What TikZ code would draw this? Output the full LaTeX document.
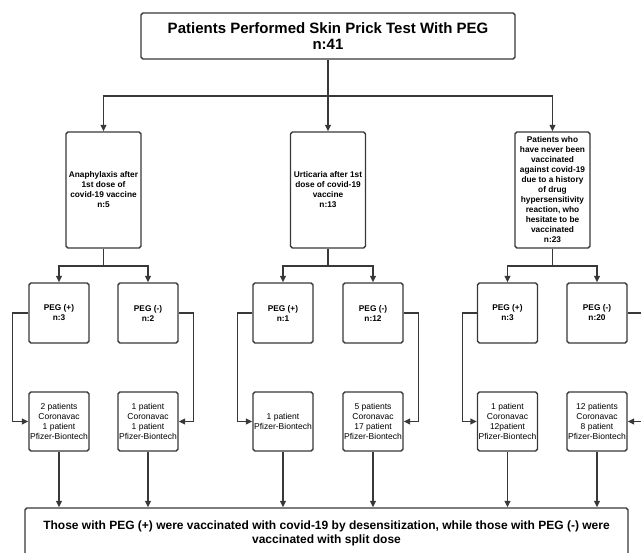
\documentclass[tikz,border=0pt]{standalone}
\usepackage{fontspec}
\setmainfont{Liberation Sans}
\usetikzlibrary{arrows.meta}
\definecolor{ln}{HTML}{383838}
\tikzset{
  box/.style={draw=ln, line width=1.4pt, rounded corners=1.8pt, inner sep=0pt, align=center, anchor=center, text=black},
  topbox/.style={box, minimum width=374pt, minimum height=46pt, font=\fontsize{15}{16.5}\selectfont\bfseries},
  grpbox/.style={box, minimum width=75pt, minimum height=116pt, font=\fontsize{8.3}{10}\selectfont\bfseries},
  pegbox/.style={box, minimum width=60pt, minimum height=60pt, font=\fontsize{8.3}{10}\selectfont\bfseries},
  resbox/.style={box, minimum width=60pt, minimum height=59pt, font=\fontsize{8.5}{10}\selectfont},
  botbox/.style={box, minimum width=603pt, minimum height=51pt, font=\fontsize{12}{14}\selectfont\bfseries},
  conn/.style={draw=ln, line width=1.4pt, -{Triangle[length=6.5pt,width=6pt]}},
  plain/.style={draw=ln, line width=1.4pt}
}
\begin{document}
\begin{tikzpicture}[x=1pt,y=-1pt]
\useasboundingbox[fill=white] (0,0) rectangle (641,553);

\node[topbox] (top) at (328,36) {Patients Performed Skin Prick Test With PEG\\n:41};

\node[grpbox] (A) at (103.5,190) {Anaphylaxis after\\1st dose of\\covid-19 vaccine\\n:5};
\node[grpbox] (B) at (328,190) {Urticaria after 1st\\dose of covid-19\\vaccine\\n:13};
\node[grpbox] (C) at (552.5,190) {Patients who\\have never been\\vaccinated\\against covid-19\\due to a history\\of drug\\hypersensitivity\\reaction, who\\hesitate to be\\vaccinated\\n:23};

\node[pegbox] (Ap) at (59,313) {PEG (+)\\n:3};
\node[pegbox] (Am) at (148,313) {PEG (-)\\n:2};
\node[pegbox] (Bp) at (283,313) {PEG (+)\\n:1};
\node[pegbox] (Bm) at (373,313) {PEG (-)\\n:12};
\node[pegbox] (Cp) at (507.5,313) {PEG (+)\\n:3};
\node[pegbox] (Cm) at (597,313) {PEG (-)\\n:20};

\node[resbox] (Ar) at (59,421.5) {2 patients\\Coronavac\\1 patient\\Pfizer-Biontech};
\node[resbox] (Amr) at (148,421.5) {1 patient\\Coronavac\\1 patient\\Pfizer-Biontech};
\node[resbox] (Br) at (283,421.5) {1 patient\\Pfizer-Biontech};
\node[resbox] (Bmr) at (373,421.5) {5 patients\\Coronavac\\17 patient\\Pfizer-Biontech};
\node[resbox] (Cr) at (507.5,421.5) {1 patient\\Coronavac\\12patient\\Pfizer-Biontech};
\node[resbox] (Cmr) at (597,421.5) {12 patients\\Coronavac\\8 patient\\Pfizer-Biontech};

\node[botbox] (bot) at (326.5,533.5) {Those with PEG (+) were vaccinated with covid-19 by desensitization, while those with PEG (-) were\\vaccinated with split dose};

% main branch
\coordinate (j) at (328,96);
\draw[plain] (top.south) -- (j);
\draw[conn] (j) -| (A.north);
\draw[conn] (j) -| (C.north);
\draw[conn] (j) -- (B.north);

% sub branches
\coordinate (ja) at (103.5,266);
\coordinate (jb) at (328,266);
\coordinate (jc) at (552.5,266);
\draw[plain] (A.south) -- (ja);
\draw[conn] (ja) -| (Ap.north);
\draw[conn] (ja) -| (Am.north);
\draw[plain] (B.south) -- (jb);
\draw[conn] (jb) -| (Bp.north);
\draw[conn] (jb) -| (Bm.north);
\draw[plain] (C.south) -- (jc);
\draw[conn] (jc) -| (Cp.north);
\draw[conn] (jc) -| (Cm.north);

% side connectors
\draw[conn] (Ap.west) -- ++(-16,0) |- (Ar.west);
\draw[conn] (Am.east) -- ++(15,0) |- (Amr.east);
\draw[conn] (Bp.west) -- ++(-15,0) |- (Br.west);
\draw[conn] (Bm.east) -- ++(15,0) |- (Bmr.east);
\draw[conn] (Cp.west) -- ++(-14.5,0) |- (Cr.west);
\draw[conn] (Cm.east) -- ++(18,0) |- (Cmr.east);

% to bottom box
\foreach \n in {Ar,Amr,Br,Bmr,Cr,Cmr}{
  \draw[conn] (\n.south) -- (\n.south |- bot.north);
}
\end{tikzpicture}
\end{document}
